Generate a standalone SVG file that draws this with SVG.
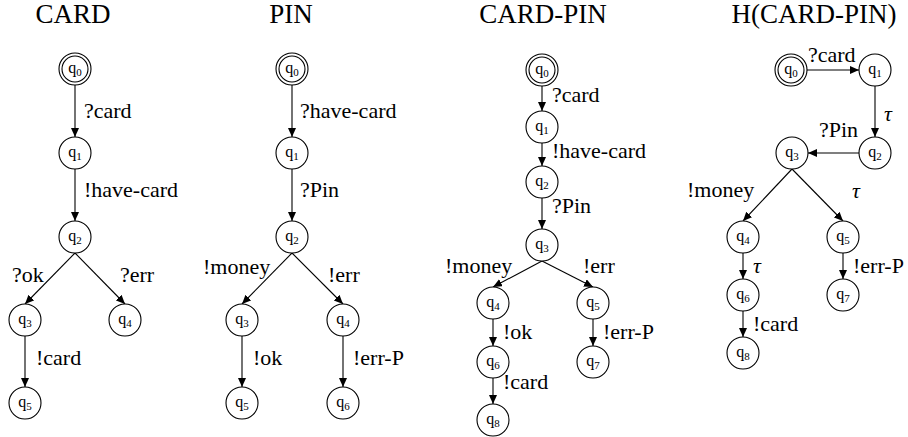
<svg xmlns="http://www.w3.org/2000/svg" width="908" height="437" viewBox="0 0 908 437" font-family="'Liberation Serif', 'Times New Roman', Tinos, 'Noto Serif', 'DejaVu Serif', FreeSerif, serif">
  <style>
    .title { font-size: 27px; fill: #000; text-anchor: middle; }
    .state circle { fill: #fff; stroke: #000; stroke-width: 1.1; }
    .state text { font-size: 16px; fill: #000; text-anchor: middle; }
    .state tspan { font-size: 11px; }
    .edges line { stroke: #000; stroke-width: 1.1; marker-end: url(#tip); }
    .lbl { font-size: 22px; fill: #000; }
    .tau { font-style: italic; }
  </style>
  <defs>
    <marker id="tip" markerUnits="userSpaceOnUse" markerWidth="10" markerHeight="9" refX="9" refY="4" orient="auto">
      <path d="M0,0 L9,4 L0,8 Z" fill="#000"/>
    </marker>
  </defs>
  <rect width="908" height="437" fill="#fff"/>

  <!-- automaton titles -->
  <text class="title" x="73" y="23">CARD</text>
  <text class="title" x="291" y="23">PIN</text>
  <text class="title" x="543" y="23">CARD-PIN</text>
  <text class="title" x="814" y="23">H(CARD-PIN)</text>

  <!-- transitions -->
  <g class="edges">
    <!-- CARD -->
    <line x1="75" y1="85" x2="75" y2="137"/>
    <line x1="75" y1="169" x2="75" y2="221"/>
    <line x1="75" y1="253" x2="25" y2="304"/>
    <line x1="75" y1="253" x2="125" y2="304"/>
    <line x1="25" y1="336" x2="25" y2="387"/>
    <!-- PIN -->
    <line x1="292" y1="85" x2="292" y2="137"/>
    <line x1="292" y1="169" x2="292" y2="221"/>
    <line x1="292" y1="253" x2="242" y2="304"/>
    <line x1="292" y1="253" x2="343" y2="304"/>
    <line x1="242" y1="336" x2="242" y2="387"/>
    <line x1="343" y1="336" x2="343" y2="387"/>
    <!-- CARD-PIN -->
    <line x1="542" y1="86" x2="542" y2="111"/>
    <line x1="542" y1="143" x2="542" y2="166"/>
    <line x1="542" y1="198" x2="542" y2="229"/>
    <line x1="542" y1="261" x2="493" y2="287"/>
    <line x1="542" y1="261" x2="593" y2="287"/>
    <line x1="493" y1="319" x2="493" y2="346"/>
    <line x1="493" y1="378" x2="493" y2="404"/>
    <line x1="593" y1="319" x2="593" y2="346"/>
    <!-- H(CARD-PIN) -->
    <line x1="807" y1="70" x2="859" y2="70"/>
    <line x1="875" y1="86" x2="875" y2="137"/>
    <line x1="859" y1="153" x2="808" y2="153"/>
    <line x1="792" y1="169" x2="743" y2="221"/>
    <line x1="792" y1="169" x2="843" y2="221"/>
    <line x1="743" y1="253" x2="743" y2="279"/>
    <line x1="743" y1="311" x2="743" y2="337"/>
    <line x1="843" y1="253" x2="843" y2="279"/>
  </g>

  <!-- transition labels -->
  <g class="labels">
    <text class="lbl" x="84" y="118">?card</text>
    <text class="lbl" x="84" y="197">!have-card</text>
    <text class="lbl" x="12" y="282">?ok</text>
    <text class="lbl" x="120" y="282">?err</text>
    <text class="lbl" x="36" y="365">!card</text>

    <text class="lbl" x="300" y="118">?have-card</text>
    <text class="lbl" x="300" y="197">?Pin</text>
    <text class="lbl" x="203" y="274">!money</text>
    <text class="lbl" x="328" y="282">!err</text>
    <text class="lbl" x="253" y="365">!ok</text>
    <text class="lbl" x="353" y="365">!err-P</text>

    <text class="lbl" x="552" y="102">?card</text>
    <text class="lbl" x="552" y="158">!have-card</text>
    <text class="lbl" x="552" y="213">?Pin</text>
    <text class="lbl" x="445" y="273">!money</text>
    <text class="lbl" x="583" y="273">!err</text>
    <text class="lbl" x="503" y="339">!ok</text>
    <text class="lbl" x="603" y="339">!err-P</text>
    <text class="lbl" x="503" y="389">!card</text>

    <text class="lbl" x="808" y="62">?card</text>
    <text class="lbl tau" x="884" y="121">τ</text>
    <text class="lbl" x="819" y="137">?Pin</text>
    <text class="lbl" x="687" y="197">!money</text>
    <text class="lbl tau" x="852" y="198">τ</text>
    <text class="lbl tau" x="753" y="273">τ</text>
    <text class="lbl" x="853" y="273">!err-P</text>
    <text class="lbl" x="753" y="331">!card</text>
  </g>

  <!-- CARD states -->
  <g id="card-q0" class="state"><circle cx="75" cy="69" r="16"/><circle cx="75" cy="69" r="13"/><text x="75" y="73">q<tspan dy="3">0</tspan></text></g>
  <g id="card-q1" class="state"><circle cx="75" cy="153" r="16"/><text x="75" y="157">q<tspan dy="3">1</tspan></text></g>
  <g id="card-q2" class="state"><circle cx="75" cy="237" r="16"/><text x="75" y="241">q<tspan dy="3">2</tspan></text></g>
  <g id="card-q3" class="state"><circle cx="25" cy="320" r="16"/><text x="25" y="324">q<tspan dy="3">3</tspan></text></g>
  <g id="card-q4" class="state"><circle cx="125" cy="320" r="16"/><text x="125" y="324">q<tspan dy="3">4</tspan></text></g>
  <g id="card-q5" class="state"><circle cx="25" cy="403" r="16"/><text x="25" y="407">q<tspan dy="3">5</tspan></text></g>

  <!-- PIN states -->
  <g id="pin-q0" class="state"><circle cx="292" cy="69" r="16"/><circle cx="292" cy="69" r="13"/><text x="292" y="73">q<tspan dy="3">0</tspan></text></g>
  <g id="pin-q1" class="state"><circle cx="292" cy="153" r="16"/><text x="292" y="157">q<tspan dy="3">1</tspan></text></g>
  <g id="pin-q2" class="state"><circle cx="292" cy="237" r="16"/><text x="292" y="241">q<tspan dy="3">2</tspan></text></g>
  <g id="pin-q3" class="state"><circle cx="242" cy="320" r="16"/><text x="242" y="324">q<tspan dy="3">3</tspan></text></g>
  <g id="pin-q4" class="state"><circle cx="343" cy="320" r="16"/><text x="343" y="324">q<tspan dy="3">4</tspan></text></g>
  <g id="pin-q5" class="state"><circle cx="242" cy="403" r="16"/><text x="242" y="407">q<tspan dy="3">5</tspan></text></g>
  <g id="pin-q6" class="state"><circle cx="343" cy="403" r="16"/><text x="343" y="407">q<tspan dy="3">6</tspan></text></g>

  <!-- CARD-PIN states -->
  <g id="cp-q0" class="state"><circle cx="542" cy="70" r="16"/><circle cx="542" cy="70" r="13"/><text x="542" y="74">q<tspan dy="3">0</tspan></text></g>
  <g id="cp-q1" class="state"><circle cx="542" cy="127" r="16"/><text x="542" y="131">q<tspan dy="3">1</tspan></text></g>
  <g id="cp-q2" class="state"><circle cx="542" cy="182" r="16"/><text x="542" y="186">q<tspan dy="3">2</tspan></text></g>
  <g id="cp-q3" class="state"><circle cx="542" cy="245" r="16"/><text x="542" y="249">q<tspan dy="3">3</tspan></text></g>
  <g id="cp-q4" class="state"><circle cx="493" cy="303" r="16"/><text x="493" y="307">q<tspan dy="3">4</tspan></text></g>
  <g id="cp-q5" class="state"><circle cx="593" cy="303" r="16"/><text x="593" y="307">q<tspan dy="3">5</tspan></text></g>
  <g id="cp-q6" class="state"><circle cx="493" cy="362" r="16"/><text x="493" y="366">q<tspan dy="3">6</tspan></text></g>
  <g id="cp-q7" class="state"><circle cx="593" cy="362" r="16"/><text x="593" y="366">q<tspan dy="3">7</tspan></text></g>
  <g id="cp-q8" class="state"><circle cx="493" cy="420" r="16"/><text x="493" y="424">q<tspan dy="3">8</tspan></text></g>

  <!-- H(CARD-PIN) states -->
  <g id="h-q0" class="state"><circle cx="791" cy="70" r="16"/><circle cx="791" cy="70" r="13"/><text x="791" y="74">q<tspan dy="3">0</tspan></text></g>
  <g id="h-q1" class="state"><circle cx="875" cy="70" r="16"/><text x="875" y="74">q<tspan dy="3">1</tspan></text></g>
  <g id="h-q2" class="state"><circle cx="875" cy="153" r="16"/><text x="875" y="157">q<tspan dy="3">2</tspan></text></g>
  <g id="h-q3" class="state"><circle cx="792" cy="153" r="16"/><text x="792" y="157">q<tspan dy="3">3</tspan></text></g>
  <g id="h-q4" class="state"><circle cx="743" cy="237" r="16"/><text x="743" y="241">q<tspan dy="3">4</tspan></text></g>
  <g id="h-q5" class="state"><circle cx="843" cy="237" r="16"/><text x="843" y="241">q<tspan dy="3">5</tspan></text></g>
  <g id="h-q6" class="state"><circle cx="743" cy="295" r="16"/><text x="743" y="299">q<tspan dy="3">6</tspan></text></g>
  <g id="h-q7" class="state"><circle cx="843" cy="295" r="16"/><text x="843" y="299">q<tspan dy="3">7</tspan></text></g>
  <g id="h-q8" class="state"><circle cx="743" cy="353" r="16"/><text x="743" y="357">q<tspan dy="3">8</tspan></text></g>
</svg>
